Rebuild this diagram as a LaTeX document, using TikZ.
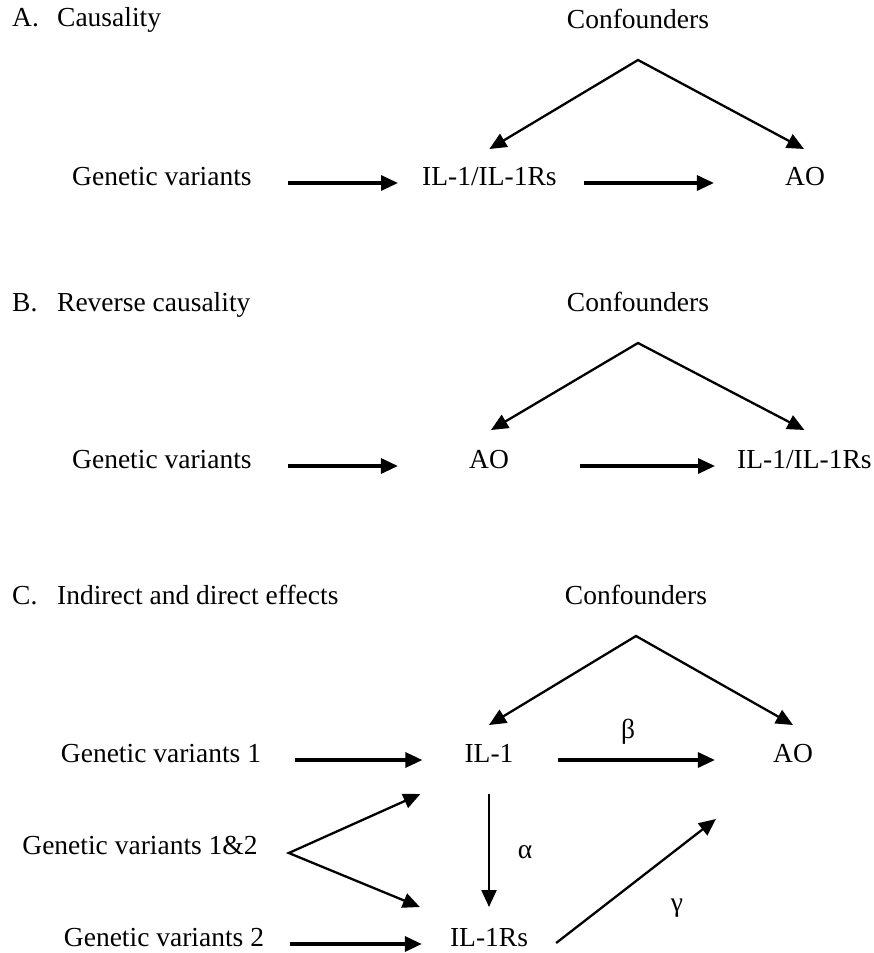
\documentclass[tikz,border=0pt]{standalone}
\usepackage{fontspec}
\setmainfont{Liberation Serif}
\usetikzlibrary{arrows.meta}
\begin{document}
\begin{tikzpicture}[x=1pt,y=-1pt,
  lbl/.style={inner sep=0pt, font=\fontsize{27.5}{33}\selectfont},
  tip/.tip={Triangle[length=17pt,width=15pt]},
  harrow/.style={line width=3.2pt, -tip},
  darrow/.style={line width=2.3pt, -tip},
  wedge/.style={line width=2.3pt, tip-tip, line join=miter}]
\useasboundingbox (0,0) rectangle (874,953);

% ---------- A ----------
\node[lbl,anchor=base west] (tA) at (12,27) {\makebox[45pt][l]{A.}Causality};
\node[lbl,anchor=base] (cfA) at (638,28) {Confounders};
\node[lbl,anchor=base west] (gvA) at (72,185) {Genetic variants};
\node[lbl,anchor=base west] (ilA) at (422,185) {IL-1/IL-1Rs};
\node[lbl,anchor=base] (aoA) at (805,185) {AO};
\draw[harrow] ([shift={(36pt,2pt)}]gvA.base east) -- ([shift={(-24pt,2pt)}]ilA.base west);
\draw[harrow] ([shift={(27pt,2pt)}]ilA.base east) -- ([shift={(-71pt,2pt)}]aoA.base west);
\draw[wedge] ([yshift=36pt]ilA.base) -- ([yshift=-32pt]cfA.base) -- ([shift={(-1pt,36pt)}]aoA.base);

% ---------- B ----------
\node[lbl,anchor=base west] (tB) at (12,311) {\makebox[45pt][l]{B.}Reverse causality};
\node[lbl,anchor=base] (cfB) at (638,311) {Confounders};
\node[lbl,anchor=base west] (gvB) at (72,468) {Genetic variants};
\node[lbl,anchor=base] (aoB) at (489,468) {AO};
\node[lbl,anchor=base west] (ilB) at (737,468) {IL-1/IL-1Rs};
\draw[harrow] ([shift={(36pt,2pt)}]gvB.base east) -- ([shift={(-71pt,2pt)}]aoB.base west);
\draw[harrow] ([shift={(71pt,2pt)}]aoB.base east) -- ([shift={(-22pt,2pt)}]ilB.base west);
\draw[wedge] ([shift={(2pt,38pt)}]aoB.base) -- ([yshift=-32pt]cfB.base) -- ([yshift=38pt]ilB.base);

% ---------- C ----------
\node[lbl,anchor=base west] (tC) at (12,604) {\makebox[45pt][l]{C.}Indirect and direct effects};
\node[lbl,anchor=base] (cfC) at (636,604) {Confounders};
\node[lbl,anchor=base] (il1) at (489,762) {IL-1};
\node[lbl,anchor=base] (aoC) at (793,762) {AO};
\node[lbl,anchor=base] (gv1) at (161,762) {Genetic variants 1};
\node[lbl,anchor=base] (gv12) at (140,854) {Genetic variants 1\&2};
\node[lbl,anchor=base] (gv2) at (164,946) {Genetic variants 2};
\node[lbl,anchor=base] (ilr) at (489,946) {IL-1Rs};
\node[lbl] (beta) at (628,732) {β};
\node[lbl] (alpha) at (525,852) {α};
\node[lbl] (gamma) at (677,908) {γ};

\draw[wedge] ([yshift=37pt]il1.base) -- ([yshift=-32pt]cfC.base) -- ([yshift=37pt]aoC.base);
\draw[harrow] ([shift={(34pt,2pt)}]gv1.base east) -- ([shift={(-42pt,2pt)}]il1.base west);
\draw[harrow] ([shift={(44pt,2pt)}]il1.base east) -- ([shift={(-58pt,2pt)}]aoC.base west);
\draw[darrow] ([yshift=-32pt]il1.base) -- ([yshift=39pt]ilr.base);
\draw[wedge] ([shift={(-44pt,-32pt)}]il1.base west) -- ([shift={(31pt,1pt)}]gv12.base east) -- ([shift={(-30pt,39pt)}]ilr.base west);
\draw[harrow] ([shift={(26pt,2pt)}]gv2.base east) -- ([shift={(-28pt,2pt)}]ilr.base west);
\draw[darrow] ([shift={(28pt,3pt)}]ilr.base east) -- ([shift={(-57pt,-57pt)}]aoC.base west);
\end{tikzpicture}
\end{document}
